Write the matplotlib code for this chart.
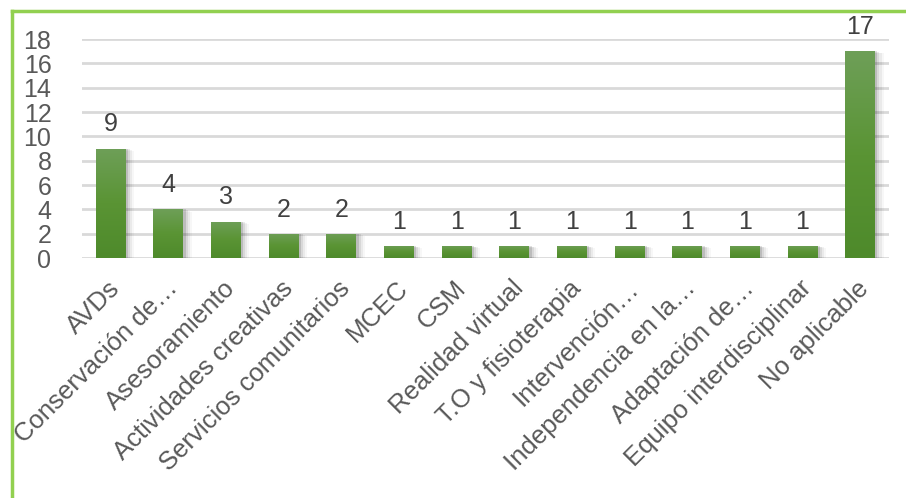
import matplotlib.pyplot as plt
import numpy as np
from matplotlib.colors import LinearSegmentedColormap
from matplotlib.lines import Line2D

plt.rcParams["font.family"] = ["Liberation Sans", "DejaVu Sans"]

categories = [
    "AVDs", "Conservación de…", "Asesoramiento", "Actividades creativas",
    "Servicios comunitarios", "MCEC", "CSM", "Realidad virtual",
    "T.O y fisioterapia", "Intervención…", "Independencia en la…",
    "Adaptación de…", "Equipo interdisciplinar", "No aplicable",
]
counts = [9, 4, 3, 2, 2, 1, 1, 1, 1, 1, 1, 1, 1, 17]
yticks = [0, 2, 4, 6, 8, 10, 12, 14, 16, 18]

TEXT = "#595959"
GRID = "#D9D9D9"
FRAME = "#92D050"
bar_cmap = LinearSegmentedColormap.from_list("bar", ["#4E8A2B", "#5A9434", "#6E9F58"])

fig = plt.figure(figsize=(9.06, 4.98), dpi=100)
ax = fig.add_axes([82 / 906, 1 - 258 / 498, (889 - 82) / 906, (258 - 39) / 498])

x = np.arange(len(categories))
width = 0.52

for v in yticks:
    ax.axhline(v, color=GRID, lw=2, zorder=0)

# soft drop shadow to the right of each bar
for i, v in enumerate(counts):
    for k, a in enumerate([0.12, 0.08, 0.05, 0.03]):
        off = 0.04 + 0.035 * k
        ax.bar(i + off, v - 0.06 * k, width=width, bottom=0, color="#000000",
               alpha=a, lw=0, zorder=1)

grad = np.linspace(0, 1, 256).reshape(-1, 1)
bars = ax.bar(x, counts, width=width, color="none", lw=0, zorder=2)
for b, v in zip(bars, counts):
    x0 = b.get_x()
    im = ax.imshow(grad, cmap=bar_cmap, aspect="auto", origin="lower",
                   extent=[x0, x0 + width, 0, v], zorder=2)
    im.set_clip_path(b)
    ax.text(b.get_x() + width / 2, v + 1.0, str(v), ha="center", va="bottom",
            fontsize=18, color="#404040", clip_on=False)

ax.set_xlim(-0.5, len(categories) - 0.5)
ax.set_ylim(0, 18)

ax.set_yticks(yticks)
ax.set_yticklabels([str(t) for t in yticks], fontsize=18, color=TEXT)
ax.tick_params(axis="y", length=0, pad=22)
ax.set_xticks(x - 0.06)
ax.set_xticklabels(categories, rotation=45, ha="right", rotation_mode="anchor",
                   fontsize=18.5, color=TEXT)
ax.tick_params(axis="x", length=0, pad=13)
for s in ax.spines.values():
    s.set_visible(False)

# green frame along top and left edges
fig.add_artist(Line2D([12 / 906, 1], [1 - 11 / 498, 1 - 11 / 498],
                      transform=fig.transFigure, color=FRAME, lw=2.5))
fig.add_artist(Line2D([12 / 906, 12 / 906], [0, 1 - 11 / 498],
                      transform=fig.transFigure, color=FRAME, lw=2.5))

fig.savefig("out.png", dpi=100)
